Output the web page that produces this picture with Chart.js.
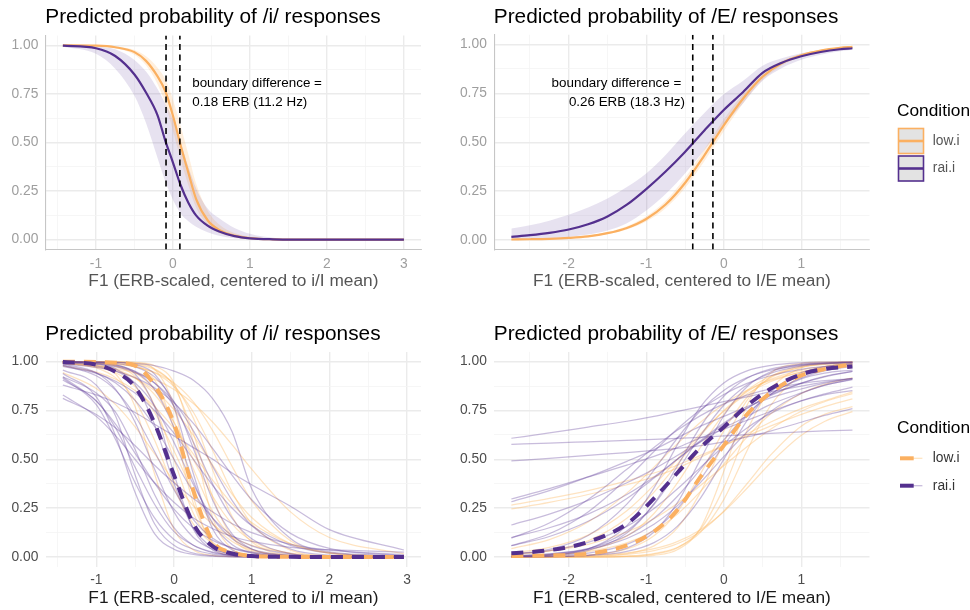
<!DOCTYPE html>
<html><head><meta charset="utf-8">
<script src="https://cdn.jsdelivr.net/npm/chart.js@4.4.1/dist/chart.umd.min.js"></script>
<style>
html,body{margin:0;padding:0;background:#fff;}
#wrap{position:relative;width:970px;height:610px;overflow:hidden;background:#fff;}
canvas{position:absolute;display:block;}
</style></head><body>
<div id="wrap">
<canvas id="cTL" width="440" height="305" style="left:0;top:0;width:440px;height:305px"></canvas>
<canvas id="cTR" width="530" height="305" style="left:440px;top:0;width:530px;height:305px"></canvas>
<canvas id="cBL" width="440" height="305" style="left:0;top:305px;width:440px;height:305px"></canvas>
<canvas id="cBR" width="530" height="305" style="left:440px;top:305px;width:530px;height:305px"></canvas>
</div>
<script>
// ---------------- DATA ----------------
const conditions = ['low.i', 'rai.i'];
const yTickValues = [0, 0.25, 0.5, 0.75, 1];
const yTickLabels = ['0.00', '0.25', '0.50', '0.75', '1.00'];
const xTickValuesI = [-1, 0, 1, 2, 3];
const xTickLabelsI = ['-1', '0', '1', '2', '3'];
const xTickValuesE = [-2, -1, 0, 1];
const xTickLabelsE = ['-2', '-1', '0', '1'];
const titleI = 'Predicted probability of /i/ responses';
const titleE = 'Predicted probability of /E/ responses';
const xTitleI = 'F1 (ERB-scaled, centered to i/I mean)';
const xTitleE = 'F1 (ERB-scaled, centered to I/E mean)';
const legendTitle = 'Condition';

// Top-left: model fit, /i/
const tlX = [-1.43, -1.0, -0.75, -0.5, -0.35, -0.2, -0.1, 0, 0.1, 0.2, 0.3, 0.45, 0.6, 0.8, 1.0, 1.3, 1.7, 2.2, 3.0];
const tlLowFit   = [1.0, 0.998, 0.99, 0.965, 0.92, 0.84, 0.765, 0.638, 0.485, 0.345, 0.21, 0.1, 0.05, 0.021, 0.008, 0.002, 0.0005, 0.0001, 0];
const tlLowLower = [1.0, 0.997, 0.985, 0.952, 0.897, 0.80, 0.70, 0.56, 0.41, 0.28, 0.165, 0.075, 0.035, 0.014, 0.005, 0.001, 0.0002, 0, 0];
const tlLowUpper = [1.0, 0.999, 0.994, 0.976, 0.944, 0.885, 0.825, 0.72, 0.585, 0.44, 0.29, 0.15, 0.078, 0.034, 0.014, 0.004, 0.001, 0.0002, 0];
const tlRaiFit   = [0.998, 0.985, 0.945, 0.85, 0.757, 0.64, 0.51, 0.397, 0.28, 0.19, 0.125, 0.072, 0.042, 0.018, 0.007, 0.002, 0.0005, 0.0001, 0];
const tlRaiLower = [0.993, 0.957, 0.88, 0.74, 0.60, 0.42, 0.30, 0.205, 0.135, 0.095, 0.066, 0.038, 0.02, 0.0075, 0.003, 0.001, 0.0002, 0, 0];
const tlRaiUpper = [0.9995, 0.993, 0.98, 0.925, 0.865, 0.775, 0.70, 0.62, 0.50, 0.375, 0.265, 0.16, 0.11, 0.06, 0.03, 0.01, 0.003, 0.001, 0.0001];
const tlBoundaries = [-0.09, 0.09];
const tlNote = ['boundary difference =', '0.18 ERB (11.2 Hz)'];

// Top-right: model fit, /E/
const trX = [-2.74, -2.5, -2.25, -2.0, -1.75, -1.5, -1.25, -1.0, -0.75, -0.5, -0.25, 0, 0.25, 0.5, 0.75, 1.0, 1.25, 1.5, 1.66];
const trLowFit   = [0.0016, 0.003, 0.0054, 0.010, 0.018, 0.034, 0.061, 0.107, 0.181, 0.291, 0.433, 0.586, 0.724, 0.835, 0.905, 0.945, 0.969, 0.983, 0.988];
const trLowLower = [0.0012, 0.0024, 0.0044, 0.0085, 0.015, 0.029, 0.053, 0.094, 0.162, 0.265, 0.403, 0.556, 0.700, 0.818, 0.893, 0.938, 0.964, 0.980, 0.9855];
const trLowUpper = [0.0022, 0.0038, 0.0066, 0.012, 0.022, 0.040, 0.070, 0.121, 0.200, 0.318, 0.463, 0.616, 0.748, 0.852, 0.917, 0.952, 0.973, 0.986, 0.9905];
const trRaiFit   = [0.015, 0.024, 0.036, 0.053, 0.08, 0.12, 0.18, 0.26, 0.35, 0.45, 0.56, 0.665, 0.757, 0.855, 0.907, 0.94, 0.962, 0.976, 0.981];
const trRaiLower = [0.003, 0.005, 0.008, 0.015, 0.027, 0.048, 0.085, 0.15, 0.235, 0.34, 0.46, 0.585, 0.70, 0.815, 0.88, 0.922, 0.948, 0.966, 0.973];
const trRaiUpper = [0.058, 0.075, 0.098, 0.128, 0.165, 0.212, 0.27, 0.34, 0.435, 0.545, 0.65, 0.745, 0.815, 0.892, 0.93, 0.955, 0.972, 0.984, 0.988];
const trBoundaries = [-0.40, -0.14];
const trNote = ['boundary difference = ', '0.26 ERB (18.3 Hz)'];

// Bottom-left: participant curves, /i/
const blX = [-1.43, -1.0, -0.75, -0.5, -0.25, 0, 0.25, 0.5, 0.75, 1.0, 1.5, 2.0, 2.96];
const blLowMean = [1.0, 0.998, 0.995, 0.98, 0.88, 0.685, 0.34, 0.08, 0.024, 0.006, 0.001, 0, 0];
const blRaiMean = [0.998, 0.985, 0.948, 0.87, 0.685, 0.42, 0.17, 0.055, 0.018, 0.005, 0.001, 0, 0];
const blLowSubjects = [
  [0.9992, 0.9933, 0.977, 0.924, 0.777, 0.5, 0.223, 0.076, 0.023, 0.0067, 0.0006, 0, 0],
  [0.9985, 0.992, 0.978, 0.943, 0.858, 0.69, 0.45, 0.231, 0.1, 0.039, 0.0055, 0.001, 0],
  [1.0, 0.9994, 0.998, 0.991, 0.964, 0.873, 0.634, 0.305, 0.1, 0.027, 0.002, 0, 0],
  [0.998, 0.994, 0.987, 0.973, 0.945, 0.891, 0.794, 0.646, 0.463, 0.289, 0.083, 0.02, 0.001],
  [0.991, 0.974, 0.953, 0.915, 0.852, 0.755, 0.622, 0.469, 0.321, 0.202, 0.068, 0.02, 0.002],
  [0.994, 0.968, 0.917, 0.802, 0.599, 0.354, 0.168, 0.069, 0.027, 0.01, 0.0013, 0, 0],
  [1.0, 0.9992, 0.996, 0.98, 0.907, 0.657, 0.274, 0.069, 0.014, 0.003, 0, 0, 0],
  [0.999, 0.996, 0.99, 0.975, 0.943, 0.873, 0.741, 0.544, 0.332, 0.171, 0.035, 0.006, 0],
  [0.978, 0.946, 0.91, 0.853, 0.77, 0.659, 0.527, 0.392, 0.271, 0.177, 0.067, 0.023, 0.003],
  [0.9989, 0.985, 0.937, 0.769, 0.426, 0.142, 0.036, 0.008, 0.002, 0, 0, 0, 0],
  [0.995, 0.982, 0.961, 0.917, 0.832, 0.69, 0.5, 0.31, 0.168, 0.083, 0.018, 0.0037, 0],
  [0.9906, 0.978, 0.964, 0.943, 0.909, 0.858, 0.786, 0.69, 0.574, 0.45, 0.231, 0.1, 0.016],
  [0.944, 0.863, 0.78, 0.666, 0.529, 0.387, 0.262, 0.167, 0.101, 0.06, 0.02, 0.006, 0],
  [1.0, 1.0, 0.9993, 0.9945, 0.961, 0.769, 0.31, 0.057, 0.008, 0.001, 0, 0, 0],
  [1.0, 1.0, 0.9994, 0.9963, 0.979, 0.891, 0.587, 0.198, 0.041, 0.0074, 0, 0, 0],
  [1.0, 0.9985, 0.9955, 0.986, 0.959, 0.883, 0.711, 0.444, 0.206, 0.078, 0.0088, 0.001, 0],
  [0.9944, 0.975, 0.943, 0.873, 0.741, 0.544, 0.332, 0.171, 0.079, 0.035, 0.006, 0.001, 0]
];
const blRaiSubjects = [
  [0.957, 0.88, 0.72, 0.42, 0.17, 0.06, 0.02, 0.007, 0.002, 0.001, 0, 0, 0],
  [0.94, 0.82, 0.62, 0.33, 0.12, 0.04, 0.013, 0.004, 0.001, 0, 0, 0, 0],
  [0.923, 0.84, 0.74, 0.55, 0.32, 0.15, 0.06, 0.022, 0.008, 0.003, 0, 0, 0],
  [0.915, 0.78, 0.6, 0.38, 0.2, 0.09, 0.04, 0.015, 0.006, 0.002, 0, 0, 0],
  [0.906, 0.8, 0.66, 0.46, 0.27, 0.13, 0.06, 0.025, 0.01, 0.004, 0.001, 0, 0],
  [0.88, 0.83, 0.79, 0.74, 0.68, 0.62, 0.56, 0.50, 0.43, 0.37, 0.26, 0.14, 0.036],
  [0.812, 0.73, 0.66, 0.57, 0.47, 0.38, 0.30, 0.23, 0.17, 0.125, 0.065, 0.035, 0.012],
  [0.829, 0.72, 0.62, 0.50, 0.38, 0.28, 0.20, 0.145, 0.105, 0.08, 0.05, 0.038, 0.025],
  [1.0, 0.998, 0.996, 0.99, 0.98, 0.952, 0.905, 0.81, 0.64, 0.35, 0.095, 0.027, 0.007],
  [0.989, 0.943, 0.858, 0.69, 0.45, 0.231, 0.1, 0.039, 0.015, 0.0055, 0.001, 0, 0],
  [0.9987, 0.989, 0.963, 0.881, 0.679, 0.378, 0.148, 0.047, 0.014, 0.004, 0, 0, 0],
  [0.995, 0.979, 0.952, 0.891, 0.774, 0.587, 0.372, 0.198, 0.093, 0.041, 0.0074, 0.001, 0],
  [1.0, 0.997, 0.991, 0.973, 0.922, 0.794, 0.556, 0.289, 0.117, 0.041, 0.0045, 0, 0],
  [0.982, 0.943, 0.891, 0.802, 0.668, 0.5, 0.332, 0.198, 0.109, 0.057, 0.015, 0.004, 0],
  [0.996, 0.987, 0.973, 0.945, 0.891, 0.794, 0.646, 0.463, 0.289, 0.161, 0.041, 0.0095, 0],
  [0.981, 0.928, 0.853, 0.723, 0.54, 0.345, 0.192, 0.096, 0.046, 0.021, 0.004, 0.001, 0],
  [1.0, 0.999, 0.997, 0.985, 0.937, 0.769, 0.426, 0.142, 0.036, 0.008, 0, 0, 0],
  [0.989, 0.971, 0.951, 0.918, 0.866, 0.789, 0.684, 0.555, 0.418, 0.293, 0.121, 0.044, 0.0055],
  [0.921, 0.798, 0.679, 0.531, 0.378, 0.245, 0.148, 0.085, 0.047, 0.026, 0.0076, 0.002, 0],
  [0.9992, 0.9944, 0.983, 0.949, 0.858, 0.663, 0.389, 0.171, 0.063, 0.021, 0.0023, 0, 0],
  [0.998, 0.991, 0.979, 0.951, 0.891, 0.773, 0.587, 0.372, 0.198, 0.093, 0.018, 0.003, 0],
  [1.0, 0.9967, 0.985, 0.937, 0.769, 0.426, 0.142, 0.036, 0.008, 0.002, 0, 0, 0],
  [0.976, 0.94, 0.9, 0.839, 0.75, 0.634, 0.5, 0.366, 0.25, 0.161, 0.06, 0.021, 0.0026]
];

// Bottom-right: participant curves, /E/
const brX = [-2.74, -2.25, -1.75, -1.25, -0.9, -0.6, -0.3, 0, 0.3, 0.6, 1.0, 1.3, 1.66];
const brLowMean = [0.005, 0.008, 0.017, 0.06, 0.13, 0.24, 0.41, 0.57, 0.73, 0.84, 0.93, 0.962, 0.987];
const brRaiMean = [0.019, 0.035, 0.077, 0.17, 0.30, 0.43, 0.56, 0.665, 0.775, 0.86, 0.935, 0.962, 0.975];
const brLowSubjects = [
  [0.266, 0.30, 0.34, 0.39, 0.43, 0.47, 0.52, 0.57, 0.62, 0.67, 0.73, 0.77, 0.81],
  [0.246, 0.28, 0.32, 0.37, 0.41, 0.455, 0.51, 0.57, 0.63, 0.69, 0.76, 0.80, 0.845],
  [0, 0.0002, 0.0009, 0.005, 0.018, 0.049, 0.127, 0.294, 0.544, 0.773, 0.932, 0.975, 0.993],
  [0, 0.0001, 0.0005, 0.0037, 0.015, 0.047, 0.142, 0.354, 0.646, 0.858, 0.968, 0.99, 0.998],
  [0, 0.0012, 0.004, 0.014, 0.033, 0.068, 0.131, 0.235, 0.375, 0.52, 0.67, 0.73, 0.77],
  [0.0029, 0.0097, 0.033, 0.107, 0.223, 0.378, 0.562, 0.731, 0.852, 0.924, 0.971, 0.986, 0.994],
  [0.043, 0.089, 0.179, 0.327, 0.46, 0.579, 0.69, 0.782, 0.853, 0.904, 0.947, 0.966, 0.981],
  [0.004, 0.0105, 0.028, 0.072, 0.135, 0.219, 0.336, 0.475, 0.614, 0.731, 0.837, 0.884, 0.917],
  [0.0124, 0.032, 0.083, 0.198, 0.332, 0.475, 0.622, 0.75, 0.846, 0.909, 0.957, 0.976, 0.988],
  [0, 0.002, 0.007, 0.021, 0.043, 0.079, 0.14, 0.232, 0.352, 0.48, 0.623, 0.694, 0.744],
  [0.0005, 0.002, 0.0095, 0.041, 0.109, 0.231, 0.426, 0.646, 0.818, 0.917, 0.973, 0.989, 0.996],
  [0.016, 0.032, 0.065, 0.128, 0.196, 0.274, 0.366, 0.467, 0.565, 0.653, 0.746, 0.795, 0.836],
  [0, 0, 0.0001, 0.0015, 0.0086, 0.037, 0.148, 0.438, 0.777, 0.94, 0.991, 0.998, 1.0],
  [0.0001, 0.0006, 0.003, 0.017, 0.057, 0.148, 0.332, 0.587, 0.802, 0.921, 0.979, 0.9926, 0.998],
  [0.021, 0.049, 0.112, 0.237, 0.368, 0.5, 0.632, 0.746, 0.835, 0.897, 0.947, 0.968, 0.983]
];
const brRaiSubjects = [
  [0.608, 0.635, 0.665, 0.695, 0.72, 0.745, 0.77, 0.795, 0.82, 0.845, 0.875, 0.895, 0.915],
  [0.577, 0.583, 0.59, 0.597, 0.602, 0.607, 0.613, 0.62, 0.626, 0.633, 0.641, 0.646, 0.65],
  [0.492, 0.505, 0.52, 0.535, 0.546, 0.556, 0.57, 0.59, 0.615, 0.645, 0.69, 0.725, 0.76],
  [0.297, 0.35, 0.41, 0.47, 0.515, 0.56, 0.61, 0.655, 0.70, 0.745, 0.80, 0.835, 0.87],
  [0.283, 0.34, 0.41, 0.49, 0.55, 0.61, 0.67, 0.72, 0.77, 0.815, 0.86, 0.89, 0.915],
  [0.164, 0.22, 0.29, 0.38, 0.45, 0.52, 0.59, 0.66, 0.72, 0.78, 0.84, 0.88, 0.91],
  [0.10, 0.15, 0.22, 0.32, 0.41, 0.50, 0.59, 0.68, 0.76, 0.83, 0.89, 0.925, 0.95],
  [0.014, 0.039, 0.11, 0.271, 0.445, 0.608, 0.75, 0.853, 0.918, 0.956, 0.981, 0.99, 0.9955],
  [0.0037, 0.0124, 0.042, 0.133, 0.269, 0.438, 0.622, 0.777, 0.881, 0.94, 0.977, 0.989, 0.9955],
  [0.006, 0.016, 0.043, 0.109, 0.198, 0.31, 0.45, 0.599, 0.731, 0.832, 0.917, 0.953, 0.976],
  [0.058, 0.119, 0.231, 0.401, 0.54, 0.655, 0.754, 0.832, 0.889, 0.928, 0.961, 0.975, 0.986],
  [0.0005, 0.0018, 0.0074, 0.029, 0.074, 0.157, 0.302, 0.5, 0.698, 0.843, 0.943, 0.974, 0.9905],
  [0.015, 0.033, 0.075, 0.157, 0.248, 0.348, 0.459, 0.567, 0.661, 0.734, 0.799, 0.83, 0.852],
  [0.058, 0.105, 0.183, 0.3, 0.404, 0.5, 0.596, 0.686, 0.763, 0.826, 0.889, 0.922, 0.95],
  [0.0004, 0.002, 0.0096, 0.046, 0.128, 0.277, 0.5, 0.723, 0.872, 0.947, 0.985, 0.993, 0.998],
  [0.097, 0.174, 0.294, 0.449, 0.561, 0.649, 0.724, 0.784, 0.829, 0.861, 0.889, 0.903, 0.913],
  [0.006, 0.0155, 0.039, 0.095, 0.168, 0.262, 0.382, 0.514, 0.64, 0.744, 0.837, 0.879, 0.908],
  [0.002, 0.0085, 0.034, 0.123, 0.273, 0.465, 0.668, 0.823, 0.915, 0.962, 0.987, 0.994, 0.998],
  [0.0022, 0.0095, 0.041, 0.161, 0.354, 0.574, 0.769, 0.891, 0.953, 0.98, 0.994, 0.9975, 0.999],
  [0.002, 0.0063, 0.02, 0.065, 0.138, 0.246, 0.399, 0.571, 0.724, 0.832, 0.912, 0.941, 0.957]
];

// ---------------- STYLE ----------------
const FONT = '"Liberation Sans", Arial, Helvetica, sans-serif';
const LOW = '#FBB061', RAI = '#54308E';
const LOW_RIB = 'rgba(253,184,99,0.22)', RAI_RIB = 'rgba(94,60,153,0.15)';
const LOW_THIN = 'rgba(253,184,99,0.40)', RAI_THIN = 'rgba(94,60,153,0.34)';
const yGrid = [0, 0.125, 0.25, 0.375, 0.5, 0.625, 0.75, 0.875, 1];
const xGridI = [-1.5, -1, -0.5, 0, 0.5, 1, 1.5, 2, 2.5, 3];
const xGridE = [-2.5, -2, -1.5, -1, -0.5, 0, 0.5, 1, 1.5];

const pts = (xs, ys) => xs.map((x, i) => ({x: x, y: ys[i]}));
function lineDs(label, xs, ys, color, width, extra) {
  return Object.assign({label: label, data: pts(xs, ys), borderColor: color, borderWidth: width,
    pointRadius: 0, pointHoverRadius: 0, fill: false, cubicInterpolationMode: 'monotone'}, extra || {});
}
function ribbon(label, xs, lo, hi, fillColor, order) {
  return [
    lineDs(label + ' lower', xs, lo, 'rgba(0,0,0,0)', 1, {order: order}),
    lineDs(label + ' upper', xs, hi, 'rgba(0,0,0,0)', 1, {order: order, fill: '-1', backgroundColor: fillColor})
  ];
}
function vline(b) {
  return {label: 'boundary', data: [{x: b, y: -0.05}, {x: b, y: 1.05}], borderColor: '#000', borderWidth: 1.6,
    borderDash: [6, 4.5], pointRadius: 0, fill: false, order: 0};
}

function makePanel(cfg) {
  const ox = cfg.box[0], oy = cfg.box[1], w = cfg.box[2], h = cfg.box[3];
  const A = cfg.area;
  const majX = v => Math.abs(v - Math.round(v)) < 1e-9;
  const majY = v => Math.abs(v * 4 - Math.round(v * 4)) < 1e-9;
  const decor = {
    id: 'decor',
    afterDraw(chart) {
      const ctx = chart.ctx, ca = chart.chartArea, sx = chart.scales.x, sy = chart.scales.y;
      ctx.save();
      ctx.fillStyle = '#000';
      ctx.textAlign = 'left';
      ctx.textBaseline = 'alphabetic';
      ctx.font = '20.8px ' + FONT;
      ctx.fillText(cfg.title, ca.left - 0.5, cfg.titleBaseline - oy);
      if (cfg.note) {
        ctx.font = '13.4px ' + FONT;
        ctx.textAlign = cfg.note.align;
        ctx.textBaseline = 'middle';
        const px = sx.getPixelForValue(cfg.note.x), py = sy.getPixelForValue(cfg.note.y);
        ctx.fillText(cfg.note.lines[0], px, py - 10.3);
        ctx.fillText(cfg.note.lines[1], px, py + 8.7);
      }
      if (cfg.legend) {
        const L = cfg.legend;
        ctx.textAlign = 'left';
        ctx.textBaseline = 'middle';
        ctx.fillStyle = '#000';
        ctx.font = '17.3px ' + FONT;
        ctx.fillText(legendTitle, 897 - ox, L.titleY - oy);
        const cols = [LOW, RAI], thins = [LOW_THIN, RAI_THIN];
        conditions.forEach((c, i) => {
          const cy = L.keyY[i] - oy;
          if (L.type === 'ribbon') {
            const x0 = 898.5 - ox;
            ctx.fillStyle = '#E3E3E3';
            ctx.fillRect(x0, cy - 12.5, 25, 25);
            ctx.strokeStyle = cols[i]; ctx.lineWidth = 1.6; ctx.setLineDash([]);
            ctx.strokeRect(x0, cy - 12.5, 25, 25);
            ctx.beginPath(); ctx.moveTo(x0, cy); ctx.lineTo(x0 + 25, cy);
            ctx.lineWidth = 2.6; ctx.stroke();
          } else {
            const x0 = 900 - ox;
            ctx.setLineDash([]);
            ctx.strokeStyle = thins[i]; ctx.lineWidth = 1.3;
            ctx.beginPath(); ctx.moveTo(x0, cy); ctx.lineTo(x0 + 22.4, cy); ctx.stroke();
            ctx.strokeStyle = cols[i]; ctx.lineWidth = 4;
            ctx.beginPath(); ctx.moveTo(x0, cy); ctx.lineTo(x0 + 13.7, cy); ctx.stroke();
          }
          ctx.fillStyle = L.labelColor;
          ctx.font = '13.8px ' + FONT;
          ctx.fillText(c, 932.8 - ox, cy);
        });
      }
      ctx.restore();
    }
  };
  return new Chart(document.getElementById(cfg.id), {
    type: 'line',
    data: {datasets: cfg.datasets},
    options: {
      responsive: false, animation: false, devicePixelRatio: 1, events: [],
      layout: {padding: {left: 0, top: A.T - oy, right: w - (A.R - ox), bottom: 0}},
      plugins: {legend: {display: false}, tooltip: {enabled: false}, title: {display: false}},
      scales: {
        x: {
          type: 'linear', min: cfg.xmin, max: cfg.xmax,
          afterBuildTicks: s => { s.ticks = cfg.xGrid.map(v => ({value: v})); },
          afterFit: s => { s.height = h - (A.B - oy); },
          ticks: {autoSkip: false, maxRotation: 0, minRotation: 0, padding: cfg.xTickPad, color: cfg.tickColor,
            font: {family: FONT, size: 13.8},
            callback: v => { const i = cfg.xTickValues.indexOf(v); return i >= 0 ? cfg.xTickLabels[i] : ''; }},
          grid: {drawTicks: false,
            color: c => (c.tick && majX(c.tick.value)) ? '#EBEBEB' : '#F4F4F4',
            lineWidth: c => (c.tick && majX(c.tick.value)) ? 1.4 : 0.8},
          border: {display: cfg.axisLine, color: '#C6C6C6', width: 1.1},
          title: {display: true, text: cfg.xTitle, color: cfg.axisTitleColor, font: {family: FONT, size: 17.3},
            padding: {top: 0, bottom: cfg.xTitlePad}}
        },
        y: {
          type: 'linear', min: -0.05, max: 1.05,
          afterBuildTicks: s => { s.ticks = yGrid.map(v => ({value: v})); },
          afterFit: s => { s.width = A.L - ox; },
          ticks: {autoSkip: false, padding: 7.5, color: cfg.tickColor, font: {family: FONT, size: 13.8},
            callback: v => { const i = yTickValues.indexOf(v); return i >= 0 ? yTickLabels[i] : ''; }},
          grid: {drawTicks: false,
            color: c => (c.tick && majY(c.tick.value)) ? '#EBEBEB' : '#F4F4F4',
            lineWidth: c => (c.tick && majY(c.tick.value)) ? 1.4 : 0.8},
          border: {display: cfg.axisLine, color: '#C6C6C6', width: 1.1}
        }
      }
    },
    plugins: [decor]
  });
}

// ---------------- PANELS ----------------
const tlSets = [].concat(
  ribbon(conditions[0], tlX, tlLowLower, tlLowUpper, LOW_RIB, 8),
  ribbon(conditions[1], tlX, tlRaiLower, tlRaiUpper, RAI_RIB, 7),
  [lineDs(conditions[0], tlX, tlLowFit, LOW, 2.2, {order: 4}),
   lineDs(conditions[1], tlX, tlRaiFit, RAI, 2.2, {order: 3})],
  tlBoundaries.map(vline)
);
makePanel({id: 'cTL', box: [0, 0, 440, 305], area: {L: 45.8, R: 421.0, T: 35.6, B: 249.4},
  xmin: -1.6515, xmax: 3.2215, xGrid: xGridI, xTickValues: xTickValuesI, xTickLabels: xTickLabelsI,
  xTickPad: 6.3, xTitlePad: 13.2, tickColor: '#9E9E9E', axisTitleColor: '#555555', axisLine: true,
  xTitle: xTitleI, title: titleI, titleBaseline: 22.7,
  note: {x: 0.25, y: 0.75, align: 'left', lines: tlNote}, datasets: tlSets});

const trSets = [].concat(
  ribbon(conditions[0], trX, trLowLower, trLowUpper, LOW_RIB, 8),
  ribbon(conditions[1], trX, trRaiLower, trRaiUpper, RAI_RIB, 7),
  [lineDs(conditions[0], trX, trLowFit, LOW, 2.2, {order: 4}),
   lineDs(conditions[1], trX, trRaiFit, RAI, 2.2, {order: 3})],
  trBoundaries.map(vline)
);
makePanel({id: 'cTR', box: [440, 0, 530, 305], area: {L: 494.3, R: 869.5, T: 34.8, B: 249.6},
  xmin: -2.96, xmax: 1.88, xGrid: xGridE, xTickValues: xTickValuesE, xTickLabels: xTickLabelsE,
  xTickPad: 6.1, xTitlePad: 13.2, tickColor: '#9E9E9E', axisTitleColor: '#555555', axisLine: true,
  xTitle: xTitleE, title: titleE, titleBaseline: 22.7,
  note: {x: -0.5, y: 0.75, align: 'right', lines: trNote},
  legend: {type: 'ribbon', titleY: 111.7, keyY: [141, 168.5], labelColor: '#555555'},
  datasets: trSets});

const blSets = [].concat(
  blRaiSubjects.map((ys, i) => lineDs(conditions[1] + ' subject ' + (i + 1), blX, ys, RAI_THIN, 1.25, {order: 5})),
  blLowSubjects.map((ys, i) => lineDs(conditions[0] + ' subject ' + (i + 1), blX, ys, LOW_THIN, 1.25, {order: 5})),
  [lineDs(conditions[0], blX, blLowMean, LOW, 4, {order: 2, borderDash: [12, 9]}),
   lineDs(conditions[1], blX, blRaiMean, RAI, 4, {order: 1, borderDash: [12, 9]})]
);
makePanel({id: 'cBL', box: [0, 305, 440, 305], area: {L: 45.8, R: 421.0, T: 351.9, B: 566.8},
  xmin: -1.6495, xmax: 3.1795, xGrid: xGridI, xTickValues: xTickValuesI, xTickLabels: xTickLabelsI,
  xTickPad: 4.9, xTitlePad: 1.8, tickColor: '#4D4D4D', axisTitleColor: '#1A1A1A', axisLine: false,
  xTitle: xTitleI, title: titleI, titleBaseline: 339.5, datasets: blSets});

const brSets = [].concat(
  brRaiSubjects.map((ys, i) => lineDs(conditions[1] + ' subject ' + (i + 1), brX, ys, RAI_THIN, 1.25, {order: 5})),
  brLowSubjects.map((ys, i) => lineDs(conditions[0] + ' subject ' + (i + 1), brX, ys, LOW_THIN, 1.25, {order: 5})),
  [lineDs(conditions[0], brX, brLowMean, LOW, 4, {order: 2, borderDash: [12, 9]}),
   lineDs(conditions[1], brX, brRaiMean, RAI, 4, {order: 1, borderDash: [12, 9]})]
);
makePanel({id: 'cBR', box: [440, 305, 530, 305], area: {L: 494.3, R: 869.5, T: 351.9, B: 566.8},
  xmin: -2.96, xmax: 1.88, xGrid: xGridE, xTickValues: xTickValuesE, xTickLabels: xTickLabelsE,
  xTickPad: 4.9, xTitlePad: 1.8, tickColor: '#4D4D4D', axisTitleColor: '#1A1A1A', axisLine: false,
  xTitle: xTitleE, title: titleE, titleBaseline: 339.5,
  legend: {type: 'dashed', titleY: 428.3, keyY: [458.3, 485.7], labelColor: '#333333'},
  datasets: brSets});
</script>
</body></html>
